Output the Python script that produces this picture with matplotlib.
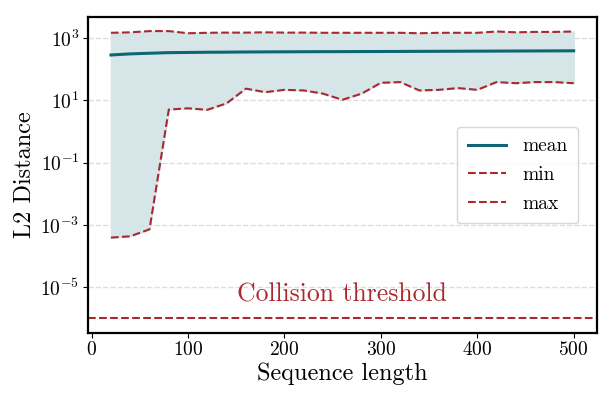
import matplotlib
matplotlib.use("Agg")
import matplotlib.pyplot as plt
import numpy as np

plt.rcParams['font.family'] = 'serif'
plt.rcParams['font.serif'] = ['cmr10']
plt.rcParams['mathtext.fontset'] = 'cm'
plt.rcParams['axes.unicode_minus'] = False
plt.rcParams['axes.formatter.use_mathtext'] = True

# sequence lengths
seq_len = [20, 40, 60, 80, 100, 120, 140, 160, 180, 200, 220, 240, 260,
           280, 300, 320, 340, 360, 380, 400, 420, 440, 460, 480, 500]

mean_dist = [290, 315, 330, 345, 350, 355, 358, 362, 365, 367, 369, 371, 372,
             374, 375, 377, 379, 381, 383, 385, 387, 389, 391, 393, 395]
min_dist = [3.9e-4, 4.3e-4, 7.2e-4, 5.1, 5.6, 5.0, 8.1, 24, 18.5, 22, 21, 16.6, 10.5,
            16.6, 37, 39, 21, 22, 25, 22, 39, 36, 39, 39, 36]
max_dist = [1500, 1550, 1700, 1700, 1450, 1500, 1520, 1520, 1550, 1520, 1520, 1500, 1500,
            1500, 1500, 1500, 1450, 1500, 1500, 1500, 1650, 1550, 1600, 1600, 1650]

threshold = 1e-6

teal = '#0e6674'
red = '#a8292e'

fig, ax = plt.subplots(figsize=(6.14, 3.98), dpi=100)
ax.fill_between(seq_len, min_dist, max_dist, color='#d6e6e8')
ax.plot(seq_len, mean_dist, color=teal, lw=2.2, label='mean')
ax.plot(seq_len, min_dist, color=red, ls='--', lw=1.5, label='min')
ax.plot(seq_len, max_dist, color=red, ls='--', lw=1.5, label='max')
ax.axhline(threshold, color=red, ls='--', lw=1.5)
ax.text(260, threshold * 2.3, 'Collision threshold', color=red, fontsize=18.5,
        ha='center', va='bottom')

ax.set_yscale('log')
ax.set_ylim(10**-6.48, 10**3.68)
ax.set_xlim(-4, 524)
ax.minorticks_off()
ax.yaxis.grid(True, ls='--', color='#dddddd', lw=1)
ax.set_axisbelow(True)
for s in ax.spines.values():
    s.set_linewidth(1.6)
ax.tick_params(labelsize=14, pad=2.5)
ax.set_xlabel('Sequence length', fontsize=17.5, labelpad=2)
ax.set_ylabel('L2 Distance', fontsize=17.5, labelpad=3)
ax.legend(loc='center right', fontsize=14, handlelength=2.0, borderpad=0.55,
          labelspacing=0.55, bbox_to_anchor=(0.982, 0.50))

fig.subplots_adjust(left=0.143, right=0.972, top=0.957, bottom=0.163)
fig.savefig('out.png')
